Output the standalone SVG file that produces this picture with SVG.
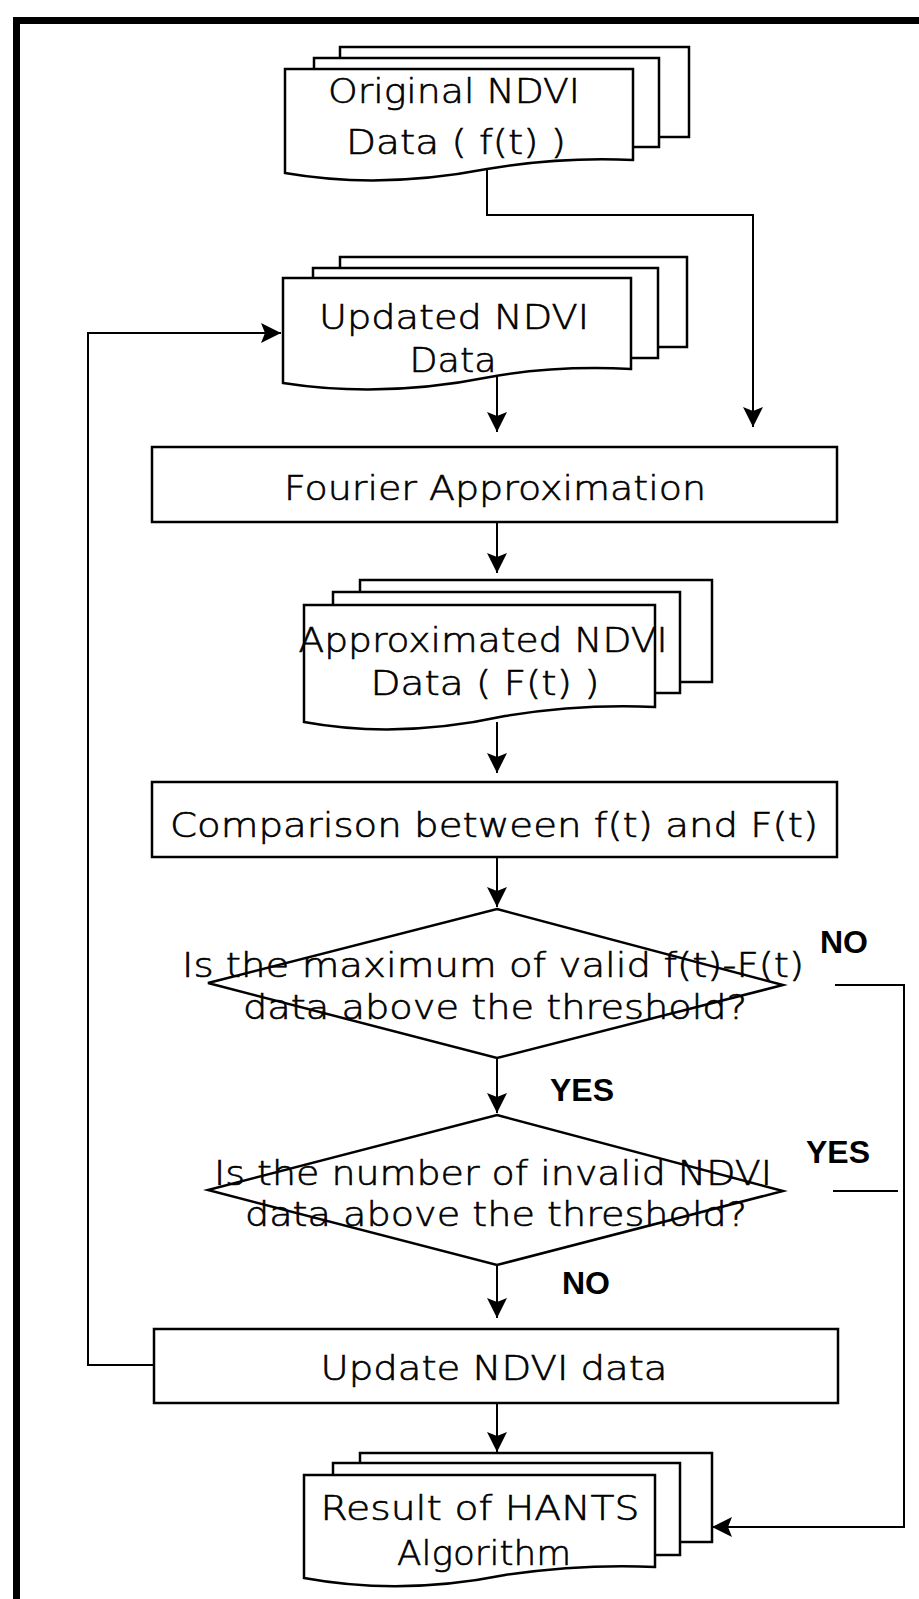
<svg xmlns="http://www.w3.org/2000/svg" width="919" height="1599" viewBox="0 0 919 1599">
<defs>
<style>
.sh{fill:#fff;stroke:#000;stroke-width:2.5}
.bx{fill:#fff;stroke:#000;stroke-width:2.5}
.cn{fill:none;stroke:#000;stroke-width:2}
.t{font-family:"DejaVu Sans","Liberation Sans",sans-serif;font-size:34px;font-weight:200;fill:#000;stroke:#000;stroke-width:0.6;text-anchor:middle}
.b{font-family:"Liberation Sans",Arial,sans-serif;font-size:32px;font-weight:bold;fill:#000}
</style>
<marker id="ah" markerUnits="userSpaceOnUse" markerWidth="24" markerHeight="24" refX="20" refY="10" orient="auto">
<path d="M0,0 L20,10 L0,20 L4,10 Z" fill="#000"/>
</marker>
</defs>
<rect width="919" height="1599" fill="#fff"/>
<path d="M16.5,1599 V20.5 H919" fill="none" stroke="#000" stroke-width="7"/>

<g id="connectors">
<path class="cn" d="M487,169 V215 H753 V427" marker-end="url(#ah)"/>
<path class="cn" d="M497,376 V432" marker-end="url(#ah)"/>
<path class="cn" d="M497,522 V573" marker-end="url(#ah)"/>
<path class="cn" d="M497,722 V773" marker-end="url(#ah)"/>
<path class="cn" d="M497,857 V907" marker-end="url(#ah)"/>
<path class="cn" d="M497,1058 V1113" marker-end="url(#ah)"/>
<path class="cn" d="M497,1265 V1318" marker-end="url(#ah)"/>
<path class="cn" d="M497,1403 V1452" marker-end="url(#ah)"/>
<path class="cn" d="M835,985 H904 V1527 H712" marker-end="url(#ah)"/>
<path class="cn" d="M833,1191 H898"/>
<path class="cn" d="M154,1365 H88 V333 H281" marker-end="url(#ah)"/>
</g>

<g id="original">
<rect class="sh" x="340" y="47" width="349" height="90"/>
<rect class="sh" x="314" y="58" width="345" height="89"/>
<path class="sh" d="M285,69 H633 V160 C590,158 540,160 487,169 C430,180 360,186 285,173 Z"/>
<text class="t" x="454" y="103" textLength="252" lengthAdjust="spacingAndGlyphs">Original NDVI</text>
<text class="t" x="456" y="154" textLength="220" lengthAdjust="spacingAndGlyphs">Data ( f(t) )</text>
</g>

<g id="updated">
<rect class="sh" x="340" y="257" width="347" height="90"/>
<rect class="sh" x="313" y="268" width="345" height="90"/>
<path class="sh" d="M283,278 H631 V369 C590,367 540,368 490,377 C430,389 360,395 283,383 Z"/>
<text class="t" x="454" y="329" textLength="270" lengthAdjust="spacingAndGlyphs">Updated NDVI</text>
<text class="t" x="453" y="372" textLength="87" lengthAdjust="spacingAndGlyphs">Data</text>
</g>

<g id="fourier">
<rect class="bx" x="152" y="447" width="685" height="75"/>
<text class="t" x="495" y="500" textLength="422" lengthAdjust="spacingAndGlyphs">Fourier Approximation</text>
</g>

<g id="approximated">
<rect class="sh" x="360" y="580" width="352" height="102"/>
<rect class="sh" x="333" y="592" width="347" height="101"/>
<path class="sh" d="M304,605 H655 V707 C610,705 560,707 505,716 C450,728 380,736 304,722 Z"/>
<text class="t" x="483" y="652" textLength="369" lengthAdjust="spacingAndGlyphs">Approximated NDVI</text>
<text class="t" x="485" y="695" textLength="229" lengthAdjust="spacingAndGlyphs">Data ( F(t) )</text>
</g>

<g id="comparison">
<rect class="bx" x="152" y="782" width="685" height="75"/>
<text class="t" x="494" y="837" textLength="648" lengthAdjust="spacingAndGlyphs">Comparison between f(t) and F(t)</text>
</g>

<g id="decision1">
<polygon class="bx" points="497,909 783,985 497,1058 208,983"/>
<text class="t" x="493" y="977" textLength="622" lengthAdjust="spacingAndGlyphs">Is the maximum of valid f(t)-F(t)</text>
<text class="t" x="495" y="1019" textLength="504" lengthAdjust="spacingAndGlyphs">data above the threshold?</text>
</g>

<g id="decision2">
<polygon class="bx" points="497,1115 783,1191 497,1265 208,1190"/>
<text class="t" x="493" y="1185" textLength="558" lengthAdjust="spacingAndGlyphs">Is the number of invalid NDVI</text>
<text class="t" x="496" y="1226" textLength="502" lengthAdjust="spacingAndGlyphs">data above the threshold?</text>
</g>

<g id="update">
<rect class="bx" x="154" y="1329" width="684" height="74"/>
<text class="t" x="494" y="1380" textLength="347" lengthAdjust="spacingAndGlyphs">Update NDVI data</text>
</g>

<g id="result">
<rect class="sh" x="360" y="1453" width="352" height="89"/>
<rect class="sh" x="333" y="1463" width="347" height="92"/>
<path class="sh" d="M304,1475 H655 V1567 C610,1565 560,1567 505,1575 C450,1586 380,1592 304,1578 Z"/>
<text class="t" x="480" y="1520" textLength="319" lengthAdjust="spacingAndGlyphs">Result of HANTS</text>
<text class="t" x="484" y="1565" textLength="174" lengthAdjust="spacingAndGlyphs">Algorithm</text>
</g>

<g id="labels">
<text class="b" x="820" y="953">NO</text>
<text class="b" x="550" y="1101">YES</text>
<text class="b" x="806" y="1163">YES</text>
<text class="b" x="562" y="1294">NO</text>
</g>
</svg>
